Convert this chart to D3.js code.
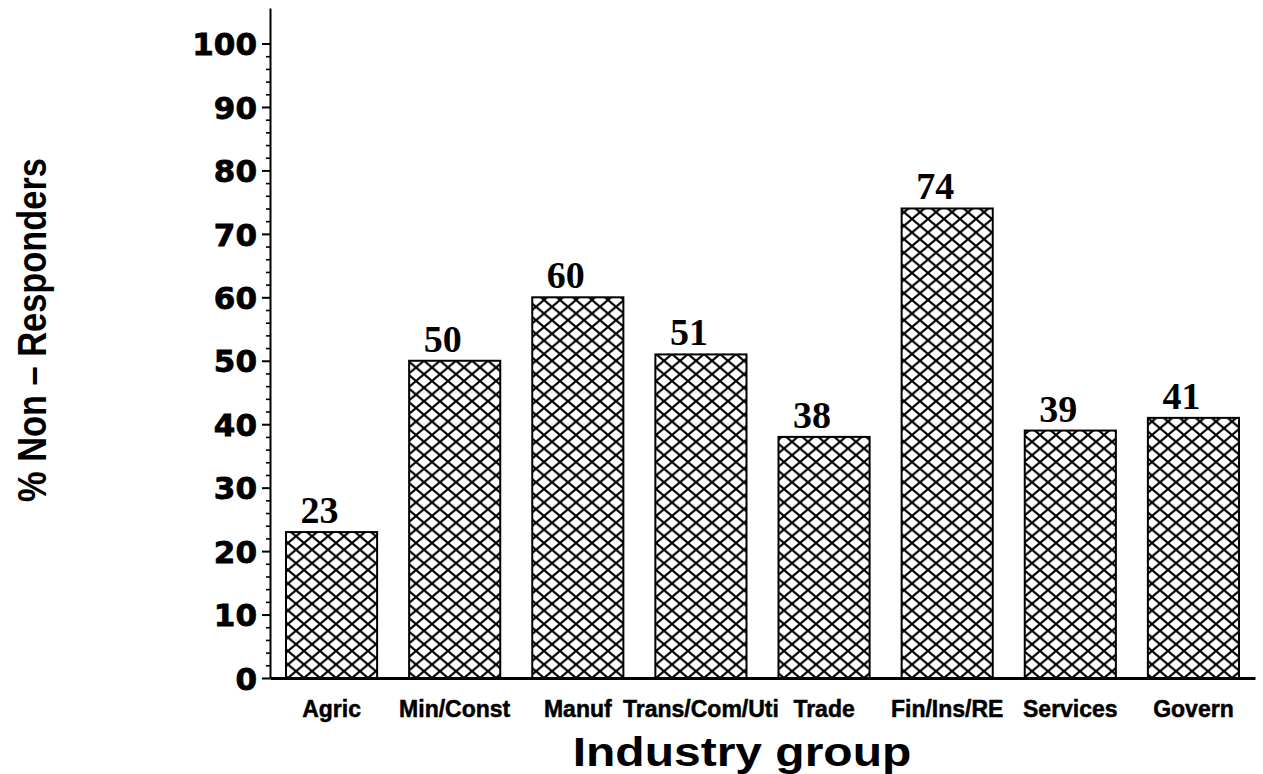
<!DOCTYPE html>
<html>
<head>
<meta charset="utf-8">
<script src="https://cdn.jsdelivr.net/npm/d3@7"></script>
<style>
  body { margin: 0; background: #fff; }
  svg { display: block; }
</style>
</head>
<body>
<svg id="chart" width="1263" height="774"></svg>
<script>
// Share of non-responders by industry group
const industries = ["Agric", "Min/Const", "Manuf", "Trans/Com/Uti", "Trade", "Fin/Ins/RE", "Services", "Govern"];
const nonResponsePct = [23, 50, 60, 51, 38, 74, 39, 41];
const yTickValues = [0, 10, 20, 30, 40, 50, 60, 70, 80, 90, 100];
const yTitle = "% Non – Responders";
const xTitle = "Industry group";

const svg = d3.select("#chart");
const W = 1263, H = 774;
svg.append("rect").attr("width", W).attr("height", H).attr("fill", "#fff");

const plot = { left: 270, right: 1255, top: 8, bottom: 678 };

const x = d3.scaleBand()
  .domain(industries)
  .range([plot.left, plot.right])
  .paddingInner(0.26)
  .paddingOuter(0.13);

const y = d3.scaleLinear()
  .domain([0, 105.6])
  .range([plot.bottom, plot.top]);

// Cross-hatch fill
const cellW = 16, cellH = 13.5;
const defs = svg.append("defs");
const pat = defs.append("pattern")
  .attr("id", "hatch")
  .attr("patternUnits", "userSpaceOnUse")
  .attr("width", cellW)
  .attr("height", cellH)
  .attr("y", plot.bottom);
pat.append("rect").attr("width", cellW).attr("height", cellH).attr("fill", "#fff");
pat.append("path")
  .attr("d", `M${-cellW / 2},${-cellH / 2} L${cellW * 1.5},${cellH * 1.5} M${cellW * 1.5},${-cellH / 2} L${-cellW / 2},${cellH * 1.5}`)
  .attr("stroke", "#000")
  .attr("stroke-width", 2.1)
  .attr("fill", "none");

// Bars
const data = industries.map((name, i) => ({ name, value: nonResponsePct[i] }));

svg.append("g")
  .selectAll("rect")
  .data(data)
  .join("rect")
  .attr("x", d => x(d.name))
  .attr("y", d => y(d.value))
  .attr("width", x.bandwidth())
  .attr("height", d => y(0) - y(d.value))
  .attr("fill", "url(#hatch)")
  .attr("stroke", "#000")
  .attr("stroke-width", 2);

// Value labels above bars
svg.append("g")
  .selectAll("text")
  .data(data)
  .join("text")
  .attr("x", d => x(d.name) + x.bandwidth() / 2 - 12)
  .attr("y", d => y(d.value) - 9)
  .attr("text-anchor", "middle")
  .attr("font-family", "'Liberation Serif', 'Times New Roman', serif")
  .attr("font-weight", "bold")
  .attr("font-size", 38)
  .attr("fill", "#000")
  .text(d => d3.format("d")(d.value));

// Y axis: minor ticks every 2, major every 10
const minorTicks = d3.range(0, 101, 2).filter(v => v % 10 !== 0);
const yMinor = svg.append("g")
  .attr("transform", `translate(${plot.left},0)`)
  .call(d3.axisLeft(y).tickValues(minorTicks).tickSize(4).tickSizeOuter(0).tickFormat(""));
yMinor.select(".domain").remove();
yMinor.selectAll("line").attr("stroke", "#000").attr("stroke-width", 1.6);

const yAxis = svg.append("g")
  .attr("transform", `translate(${plot.left},0)`)
  .call(d3.axisLeft(y).tickValues(yTickValues).tickSize(8).tickSizeOuter(0).tickPadding(5));
yAxis.select(".domain").attr("stroke", "#000").attr("stroke-width", 2);
yAxis.selectAll(".tick line").attr("stroke", "#000").attr("stroke-width", 2);
yAxis.selectAll(".tick text")
  .attr("font-family", "'DejaVu Sans', sans-serif")
  .attr("font-weight", "bold")
  .attr("font-size", 31)
  .attr("fill", "#000")
  .attr("stroke", "#000")
  .attr("stroke-width", 0.8)
  .attr("dy", "0.36em");

// X axis
const xAxis = svg.append("g")
  .attr("transform", `translate(0,${plot.bottom})`)
  .call(d3.axisBottom(x).tickSize(0).tickSizeOuter(0).tickPadding(23));
xAxis.select(".domain").attr("stroke", "#000").attr("stroke-width", 3);
xAxis.selectAll(".tick text")
  .attr("font-family", "'Liberation Sans', Arial, sans-serif")
  .attr("font-weight", "bold")
  .attr("font-size", 23)
  .attr("fill", "#000")
  .attr("stroke", "#000")
  .attr("stroke-width", 0.5);

// Axis titles
svg.append("text")
  .attr("transform", `translate(742,766) scale(1.2,1)`)
  .attr("text-anchor", "middle")
  .attr("font-family", "'Liberation Sans', Arial, sans-serif")
  .attr("font-weight", "bold")
  .attr("font-size", 40)
  .attr("fill", "#000")
  .text(xTitle);

svg.append("text")
  .attr("transform", `translate(46,330) rotate(-90) scale(0.86,1)`)
  .attr("text-anchor", "middle")
  .attr("font-family", "'Liberation Sans', Arial, sans-serif")
  .attr("font-weight", "bold")
  .attr("font-size", 40)
  .attr("fill", "#000")
  .text(yTitle);
</script>
</body>
</html>
